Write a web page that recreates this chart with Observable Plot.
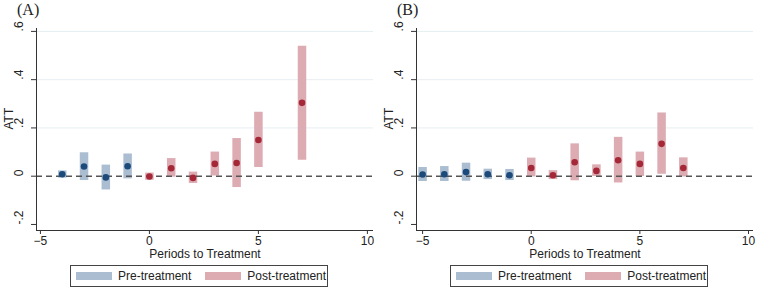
<!DOCTYPE html>
<html>
<head>
<meta charset="utf-8">
<script src="https://cdn.jsdelivr.net/npm/d3@7"></script>
<script src="https://cdn.jsdelivr.net/npm/@observablehq/plot@0.6"></script>
<style>
  body { margin: 0; background: #fff; font-family: "Liberation Sans", Arial, Helvetica, sans-serif; }
  #wrap { position: relative; width: 760px; height: 290px; display: flex; }
  .panel { position: relative; width: 380px; height: 290px; }
  .panel svg { position: absolute; left: 0; top: 0; font-family: "Liberation Sans", Arial, Helvetica, sans-serif; }
  .panel svg text { font-family: "Liberation Sans", Arial, Helvetica, sans-serif; }
  .title { position: absolute; top: 1px; left: 17px; font-family: "Liberation Serif", "Times New Roman", serif; font-size: 16px; color: #222; }
  .legend { position: absolute; top: 265px; left: 70px; width: 258px; height: 22px; box-sizing: border-box; border: 1px solid #444; display: flex; align-items: center; font-size: 12px; color: #222; white-space: nowrap; font-family: "Liberation Sans", Arial, Helvetica, sans-serif; }
  .sw { display: inline-block; flex: 0 0 auto; width: 36px; height: 8px; margin: 0 6px 0 5px; }
</style>
</head>
<body>
<div id="wrap"></div>
<script>
// Panel A
const periodsA = [-4, -3, -2, -1, 0, 1, 2, 3, 4, 5, 7];
const attA     = [0.008, 0.040, -0.005, 0.041, -0.001, 0.033, -0.007, 0.051, 0.055, 0.150, 0.304];
const loA      = [-0.008, -0.018, -0.057, -0.011, -0.017, -0.004, -0.030, 0.001, -0.047, 0.036, 0.066];
const hiA      = [0.022, 0.097, 0.046, 0.092, 0.013, 0.073, 0.017, 0.100, 0.156, 0.265, 0.538];

// Panel B
const periodsB = [-5, -4, -3, -2, -1, 0, 1, 2, 3, 4, 5, 6, 7];
const attB     = [0.007, 0.008, 0.017, 0.008, 0.004, 0.034, 0.004, 0.058, 0.022, 0.066, 0.051, 0.134, 0.034];
const loB      = [-0.022, -0.022, -0.021, -0.014, -0.018, -0.003, -0.014, -0.019, -0.001, -0.028, -0.001, 0.008, -0.003];
const hiB      = [0.036, 0.040, 0.054, 0.029, 0.028, 0.075, 0.023, 0.134, 0.047, 0.161, 0.100, 0.262, 0.076];

const panelTitles = ["(A)", "(B)"];
const xTicks = [-5, 0, 5, 10];
const yTicks = [0.6, 0.4, 0.2, 0, -0.2];
const yTickLabels = [".6", ".4", ".2", "0", "-.2"];
const gridValues = [0.2, 0.4, 0.6];
const groupNames = ["Pre-treatment", "Post-treatment"];
const xLabel = "Periods to Treatment";
const yLabel = "ATT";

const barColor = {"Pre-treatment": "#aabdd1", "Post-treatment": "#dcacb2"};
const dotColor = {"Pre-treatment": "#1b4a7b", "Post-treatment": "#a52838"};
const FONT = "Liberation Sans, Arial, Helvetica, sans-serif";

function rows(periods, att, lo, hi) {
  return periods.map((t, i) => ({t, att: att[i], lo: lo[i], hi: hi[i], g: t < 0 ? groupNames[0] : groupNames[1]}));
}

function panel(data, xDomain, title) {
  const yDomain = [-0.225, 0.612];
  const ytl = yTicks.map((v, i) => ({v, s: yTickLabels[i]}));
  const svg = Plot.plot({
    width: 380, height: 260,
    marginLeft: 36, marginRight: 380 - 36 - 337, marginTop: 28, marginBottom: 30,
    style: {fontFamily: FONT, fontSize: "12px", color: "#222"},
    x: {domain: xDomain},
    y: {domain: yDomain},
    marks: [
      Plot.ruleY(gridValues, {stroke: "#e6eef2", strokeWidth: 1}),
      Plot.ruleX(data, {x: "t", y1: "lo", y2: "hi", stroke: d => barColor[d.g], strokeWidth: 8.5}),
      Plot.ruleY([0], {stroke: "#555", strokeWidth: 1.4, strokeDasharray: "6,4"}),
      Plot.dot(data, {x: "t", y: "att", r: 3.3, fill: d => dotColor[d.g], stroke: "none"}),
      Plot.ruleY([yDomain[0]], {stroke: "#333", strokeWidth: 1}),
      Plot.ruleX([xDomain[0]], {stroke: "#333", strokeWidth: 1}),
      Plot.axisX({ticks: xTicks, tickSize: 4, tickPadding: 2, label: null, stroke: "#333", fontSize: 12, fontFamily: FONT}),
      Plot.axisY({ticks: yTicks, tickSize: 5, tickFormat: () => "", label: null, stroke: "#333"}),
      Plot.text(ytl, {y: "v", text: "s", frameAnchor: "left", dx: -17, rotate: -90, fill: "#222", fontSize: 12, fontFamily: FONT}),
      Plot.text([xLabel], {frameAnchor: "bottom", dy: 27, fill: "#222", fontSize: 12, fontFamily: FONT}),
      Plot.text([yLabel], {frameAnchor: "left", dx: -27, rotate: -90, fill: "#222", fontSize: 12, fontFamily: FONT})
    ]
  });
  const div = document.createElement("div");
  div.className = "panel";
  div.appendChild(svg);
  const t = document.createElement("div");
  t.className = "title";
  t.textContent = title;
  div.appendChild(t);
  const leg = document.createElement("div");
  leg.className = "legend";
  groupNames.forEach((g, i) => {
    const sw = document.createElement("span");
    sw.className = "sw";
    sw.style.background = barColor[g];
    if (i === 1) sw.style.marginLeft = "14px";
    leg.appendChild(sw);
    const s = document.createElement("span");
    s.textContent = g;
    leg.appendChild(s);
  });
  div.appendChild(leg);
  return div;
}

const wrap = document.getElementById("wrap");
wrap.appendChild(panel(rows(periodsA, attA, loA, hiA), [-5.18, 10.28], panelTitles[0]));
wrap.appendChild(panel(rows(periodsB, attB, loB, hiB), [-5.28, 10.23], panelTitles[1]));
</script>
</body>
</html>
